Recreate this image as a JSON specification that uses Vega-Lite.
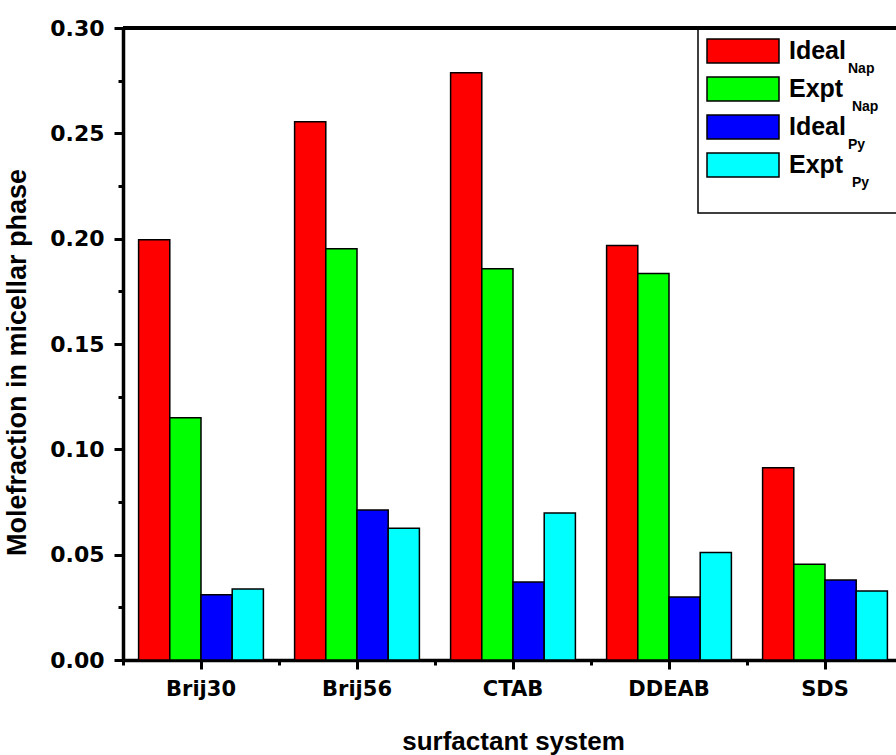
{
  "$schema": "https://vega.github.io/schema/vega-lite/v6.json",
  "autosize": {"type": "none"},
  "width": 773,
  "height": 632,
  "padding": {"left": 123, "top": 28, "right": 0, "bottom": 95},
  "background": "white",
  "config": {"view": {"stroke": null}, "font": "Liberation Sans", "legend": {"strokeWidth": 1.5}},
  "data": {
    "values": [
      {"system": "Brij30", "series": "IdealNap", "value": 0.1995},
      {"system": "Brij30", "series": "ExptNap", "value": 0.115},
      {"system": "Brij30", "series": "IdealPy", "value": 0.031},
      {"system": "Brij30", "series": "ExptPy", "value": 0.0337},
      {"system": "Brij56", "series": "IdealNap", "value": 0.2555},
      {"system": "Brij56", "series": "ExptNap", "value": 0.1952},
      {"system": "Brij56", "series": "IdealPy", "value": 0.0712},
      {"system": "Brij56", "series": "ExptPy", "value": 0.0625},
      {"system": "CTAB", "series": "IdealNap", "value": 0.2787},
      {"system": "CTAB", "series": "ExptNap", "value": 0.1857},
      {"system": "CTAB", "series": "IdealPy", "value": 0.037},
      {"system": "CTAB", "series": "ExptPy", "value": 0.0698},
      {"system": "DDEAB", "series": "IdealNap", "value": 0.1967},
      {"system": "DDEAB", "series": "ExptNap", "value": 0.1835},
      {"system": "DDEAB", "series": "IdealPy", "value": 0.0299},
      {"system": "DDEAB", "series": "ExptPy", "value": 0.051},
      {"system": "SDS", "series": "IdealNap", "value": 0.0912},
      {"system": "SDS", "series": "ExptNap", "value": 0.0455},
      {"system": "SDS", "series": "IdealPy", "value": 0.038},
      {"system": "SDS", "series": "ExptPy", "value": 0.0327}
    ]
  },
  "resolve": {"axis": {"x": "independent", "y": "independent"}},
  "layer": [
    {
      "mark": {"type": "bar", "stroke": "black", "strokeWidth": 1.5},
      "encoding": {
        "x": {
          "field": "system", "type": "nominal",
          "sort": ["Brij30", "Brij56", "CTAB", "DDEAB", "SDS"],
          "scale": {"range": [0, 780], "paddingInner": 0, "paddingOuter": 0},
          "axis": {
            "orient": "bottom", "title": "surfactant system", "labelAngle": 0,
            "labelFont": "DejaVu Sans", "labelFontWeight": "bold", "labelFontSize": 21, "labelColor": "black",
            "labelPadding": 9, "tickSize": 9, "tickWidth": 3, "tickColor": "black",
            "domainWidth": 3.5, "domainColor": "black",
            "titleFont": "Liberation Sans", "titleFontSize": 26, "titleFontWeight": "bold", "titleColor": "black",
            "titlePadding": 29, "grid": false
          }
        },
        "xOffset": {
          "field": "series", "type": "nominal",
          "sort": ["IdealNap", "ExptNap", "IdealPy", "ExptPy"],
          "scale": {"paddingInner": 0, "paddingOuter": 0.5}
        },
        "y": {
          "field": "value", "type": "quantitative",
          "scale": {"domain": [0, 0.3], "nice": false},
          "axis": {
            "orient": "left", "title": "Molefraction in micellar phase",
            "values": [0, 0.05, 0.1, 0.15, 0.2, 0.25, 0.3], "format": ".2f",
            "labelFont": "DejaVu Sans", "labelFontWeight": "bold", "labelFontSize": 22, "labelColor": "black",
            "labelPadding": 10, "tickSize": 9, "tickWidth": 3, "tickColor": "black",
            "domainWidth": 3.5, "domainColor": "black",
            "titleFont": "Liberation Sans", "titleFontSize": 27, "titleFontWeight": "bold", "titleColor": "black",
            "titlePadding": 18, "titleY": 334, "grid": false
          }
        },
        "color": {
          "field": "series", "type": "nominal",
          "sort": ["IdealNap", "ExptNap", "IdealPy", "ExptPy"],
          "scale": {"range": ["#FF0000", "#00FF00", "#0000FF", "#00FFFF"]},
          "legend": {
            "orient": "none", "legendX": 575, "legendY": 1,
            "title": "\u00a0", "titleOrient": "bottom", "titleFontSize": 14, "titlePadding": 10,
            "strokeColor": "black", "padding": 9,
            "symbolType": "M-3,-1H3V1H-3Z", "symbolSize": 576,
            "symbolStrokeColor": "black", "symbolStrokeWidth": 1.5, "symbolOpacity": 1,
            "symbolOffset": 23, "labelOffset": 33,
            "labelFont": "Liberation Sans", "labelFontWeight": "bold", "labelFontSize": 25, "labelColor": "black",
            "labelLimit": 500, "rowPadding": 8,
            "labelExpr": "(indexof(datum.value, 'Ideal') == 0 ? 'Ideal' : 'Expt') + '\u00a0\u00a0\u00a0\u00a0\u00a0\u00a0\u00a0\u00a0\u00a0\u00a0\u00a0\u00a0\u00a0\u00a0\u00a0\u00a0\u00a0\u00a0\u200b'"
          }
        }
      }
    },
    {
      "mark": {"type": "point", "opacity": 0},
      "encoding": {
        "x": {
          "field": "system", "type": "nominal",
          "sort": ["Brij30", "Brij56", "CTAB", "DDEAB", "SDS"],
          "axis": {
            "orient": "bottom", "title": null, "labels": false, "domain": false,
            "bandPosition": 0, "tickSize": 5, "tickWidth": 3, "tickColor": "black", "grid": false
          }
        },
        "y": {
          "field": "value", "type": "quantitative",
          "axis": {
            "orient": "left", "title": null, "labels": false, "domain": false,
            "values": [0.025, 0.075, 0.125, 0.175, 0.225, 0.275],
            "tickSize": 5, "tickWidth": 3, "tickColor": "black", "grid": false
          }
        },
        "shape": {
          "field": "series", "type": "nominal",
          "scale": {"domain": ["IdealNap", "ExptNap", "IdealPy", "ExptPy"], "range": ["circle", "circle", "circle", "circle"]},
          "legend": {
            "orient": "none", "legendX": 711, "legendY": 34, "title": null,
            "padding": 0, "symbolSize": 0, "symbolStrokeWidth": 0, "symbolOpacity": 0,
            "labelOffset": 0, "rowPadding": 24,
            "labelFont": "Liberation Sans", "labelFontWeight": "bold", "labelFontSize": 14, "labelColor": "black",
            "labelExpr": "indexof(datum.value, 'Ideal') == 0 ? replace(datum.value, 'Ideal', '') : '\u200b\u00a0' + replace(datum.value, 'Expt', '')"
          }
        }
      }
    },
    {
      "mark": {"type": "rule", "strokeWidth": 3.5, "color": "black"},
      "encoding": {"y": {"datum": 0.3, "type": "quantitative", "axis": null}}
    }
  ]
}
